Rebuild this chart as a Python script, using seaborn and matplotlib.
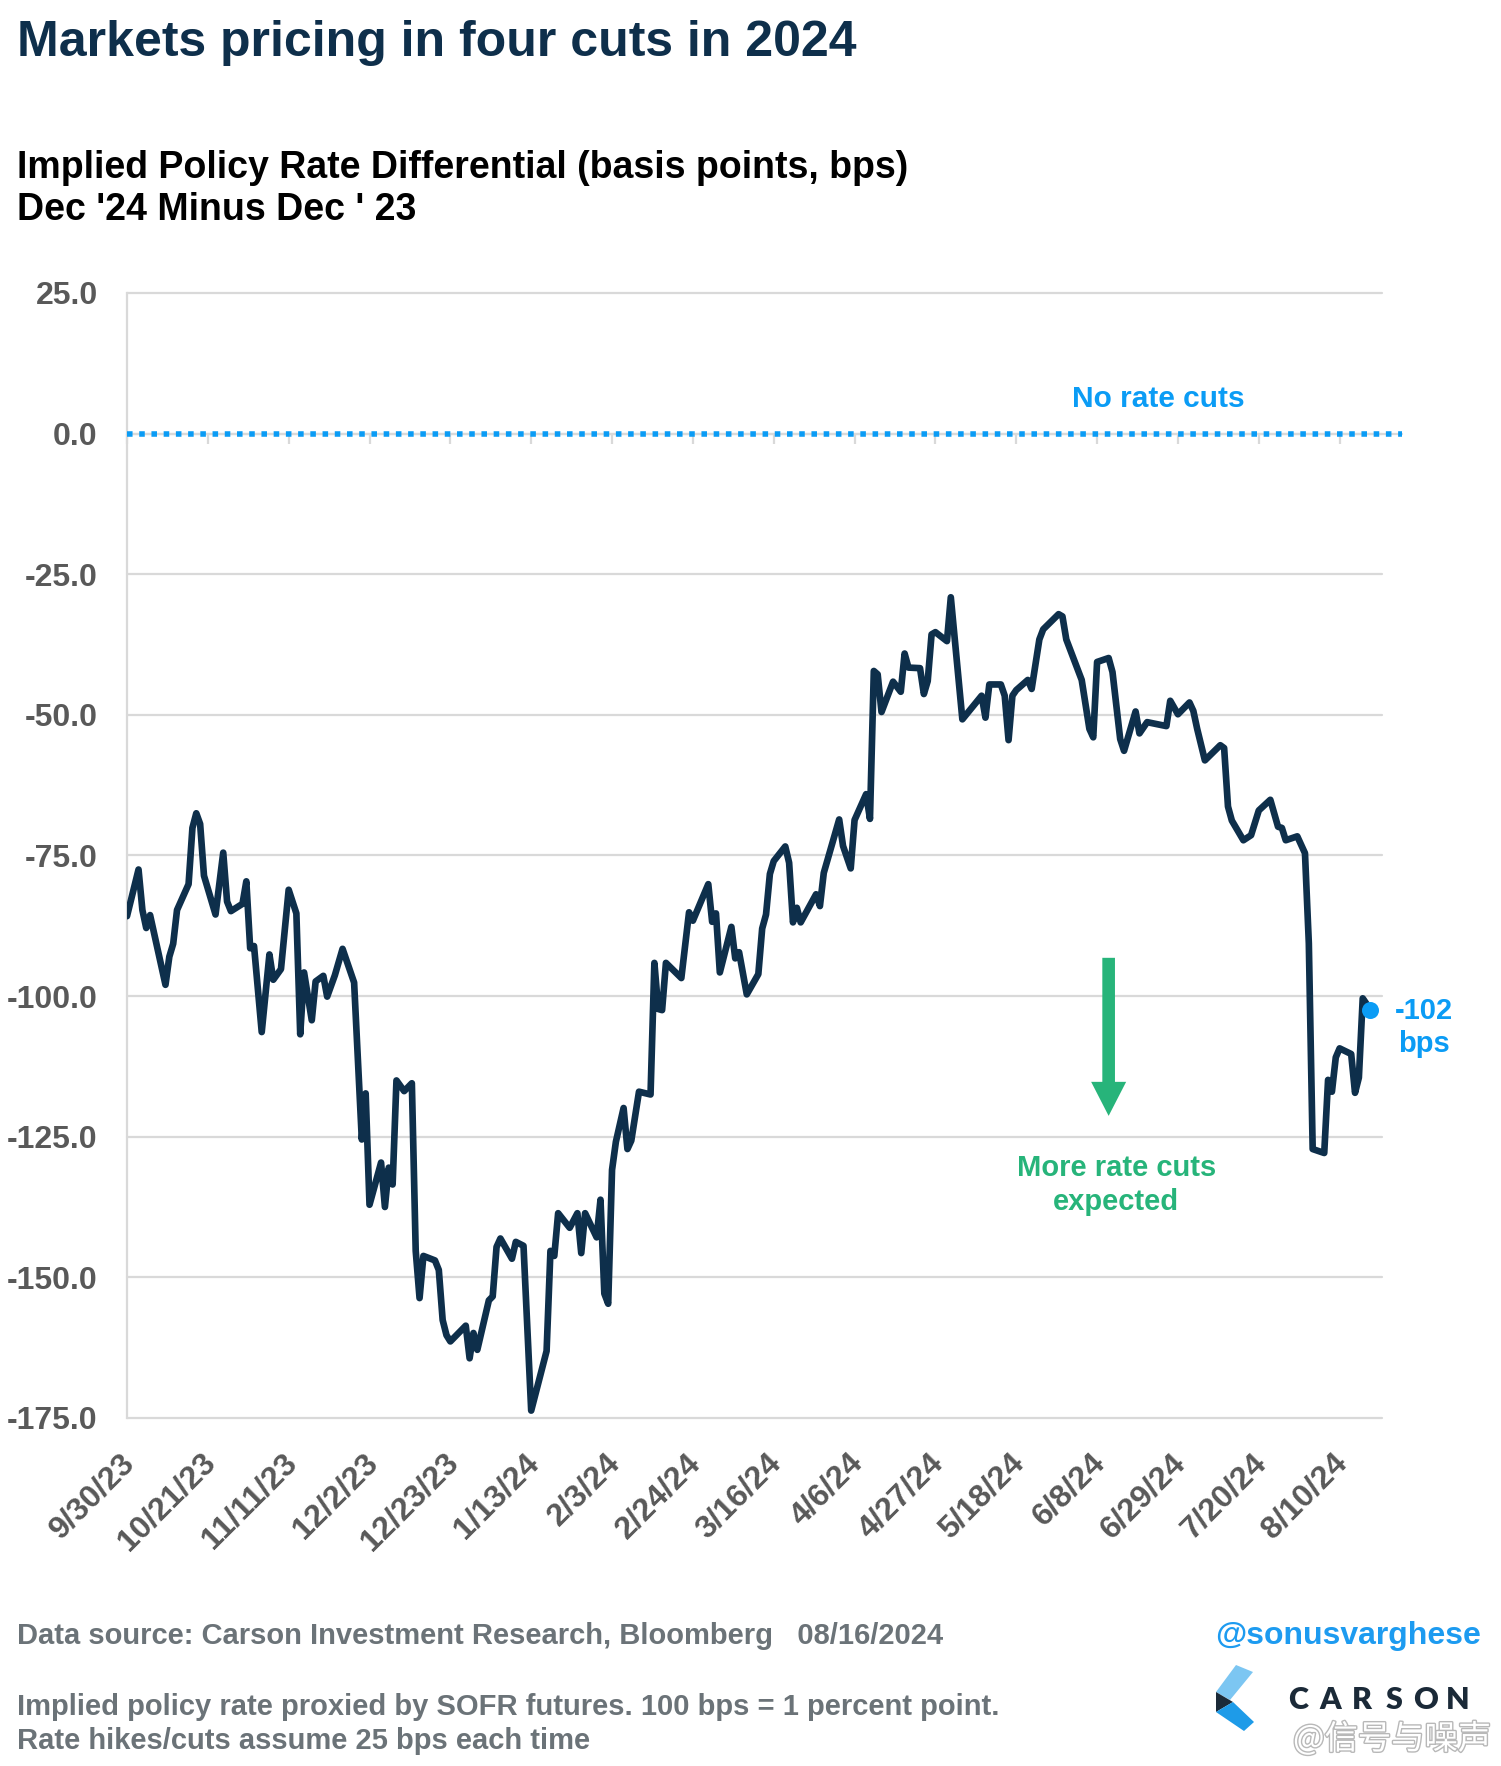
import matplotlib
matplotlib.use("Agg")
import matplotlib.pyplot as plt
import matplotlib.dates as mdates
import matplotlib.patheffects as pe
from matplotlib.patches import Polygon
import pandas as pd
import seaborn as sns

# Implied policy rate differential, Dec'24 minus Dec'23 (bps)
obs_dates = [
    # Oct 2023
    "2023-09-30", "2023-10-03", "2023-10-04", "2023-10-05", "2023-10-06", "2023-10-10", "2023-10-11",
    "2023-10-12", "2023-10-13", "2023-10-16", "2023-10-17", "2023-10-18", "2023-10-19", "2023-10-20",
    "2023-10-23", "2023-10-25", "2023-10-26", "2023-10-27", "2023-10-30", "2023-10-31",
    # Nov 2023
    "2023-11-01", "2023-11-02", "2023-11-04", "2023-11-06", "2023-11-07", "2023-11-09", "2023-11-11",
    "2023-11-13", "2023-11-14", "2023-11-15", "2023-11-17", "2023-11-18", "2023-11-20", "2023-11-21",
    "2023-11-23", "2023-11-25", "2023-11-28", "2023-11-30",
    # Dec 2023
    "2023-12-01", "2023-12-02", "2023-12-05", "2023-12-06", "2023-12-07", "2023-12-08", "2023-12-09",
    "2023-12-11", "2023-12-13", "2023-12-14", "2023-12-15", "2023-12-16", "2023-12-19", "2023-12-20",
    "2023-12-21", "2023-12-22", "2023-12-23", "2023-12-27", "2023-12-28", "2023-12-29", "2023-12-30",
    # Jan 2024
    "2024-01-02", "2024-01-03", "2024-01-04", "2024-01-05", "2024-01-08", "2024-01-09", "2024-01-11",
    "2024-01-13", "2024-01-17", "2024-01-18", "2024-01-19", "2024-01-20", "2024-01-23", "2024-01-25",
    "2024-01-26", "2024-01-27", "2024-01-30", "2024-01-31",
    # Feb 2024
    "2024-02-01", "2024-02-02", "2024-02-03", "2024-02-04", "2024-02-06", "2024-02-07", "2024-02-08",
    "2024-02-10", "2024-02-13", "2024-02-14", "2024-02-15", "2024-02-16", "2024-02-17", "2024-02-21",
    "2024-02-23", "2024-02-24", "2024-02-28", "2024-02-29",
    # Mar 2024
    "2024-03-01", "2024-03-02", "2024-03-05", "2024-03-06", "2024-03-07", "2024-03-09", "2024-03-12",
    "2024-03-13", "2024-03-14", "2024-03-15", "2024-03-16", "2024-03-19", "2024-03-20", "2024-03-21",
    "2024-03-22", "2024-03-23", "2024-03-27", "2024-03-28", "2024-03-29",
    # Apr 2024
    "2024-04-02", "2024-04-03", "2024-04-05", "2024-04-06", "2024-04-09", "2024-04-10", "2024-04-11",
    "2024-04-12", "2024-04-13", "2024-04-16", "2024-04-18", "2024-04-19", "2024-04-20", "2024-04-23",
    "2024-04-24", "2024-04-25", "2024-04-26", "2024-04-27", "2024-04-30",
    # May 2024
    "2024-05-01", "2024-05-04", "2024-05-09", "2024-05-10", "2024-05-11", "2024-05-14", "2024-05-15",
    "2024-05-16", "2024-05-17", "2024-05-18", "2024-05-21", "2024-05-22", "2024-05-24", "2024-05-25",
    "2024-05-29", "2024-05-30", "2024-05-31",
    # Jun 2024
    "2024-06-04", "2024-06-06", "2024-06-07", "2024-06-08", "2024-06-11", "2024-06-12", "2024-06-14",
    "2024-06-15", "2024-06-18", "2024-06-19", "2024-06-21", "2024-06-26", "2024-06-27", "2024-06-29",
    # Jul 2024
    "2024-07-02", "2024-07-03", "2024-07-04", "2024-07-06", "2024-07-10", "2024-07-11", "2024-07-12",
    "2024-07-13", "2024-07-16", "2024-07-18", "2024-07-20", "2024-07-23", "2024-07-25", "2024-07-26",
    "2024-07-27", "2024-07-30",
    # Aug 2024
    "2024-08-01", "2024-08-02", "2024-08-03", "2024-08-06", "2024-08-07", "2024-08-08", "2024-08-09",
    "2024-08-10", "2024-08-13", "2024-08-14", "2024-08-15", "2024-08-16", "2024-08-17",
]
implied_diff = [
    # Oct 2023
    -85.8, -77.5, -84.7, -87.9, -85.6, -98.0, -93.0,
    -90.7, -84.7, -80.1, -70.1, -67.5, -69.4, -78.6,
    -85.5, -74.5, -83.2, -84.9, -83.6, -79.6,
    # Nov 2023
    -91.5, -91.1, -106.4, -92.6, -97.1, -95.2, -81.1,
    -85.3, -106.8, -95.8, -104.3, -97.4, -96.4, -100.1,
    -96.3, -91.6, -97.6, -125.5,
    # Dec 2023
    -117.3, -137.1, -129.6, -137.5, -130.5, -133.5, -115.0,
    -116.9, -115.5, -145.3, -153.7, -146.2, -147.0, -148.7,
    -157.6, -160.3, -161.4, -158.6, -164.4, -159.9, -162.9,
    # Jan 2024
    -154.1, -153.4, -144.6, -143.1, -146.7, -143.7, -144.4,
    -173.7, -163.1, -145.3, -146.2, -138.6, -141.2, -138.6,
    -145.7, -138.6, -142.9, -136.2,
    # Feb 2024
    -152.9, -154.7, -130.9, -125.9, -119.9, -127.2, -125.7,
    -117.0, -117.5, -94.1, -102.3, -102.5, -94.1, -96.8,
    -85.1, -86.6, -80.1, -86.8,
    # Mar 2024
    -85.3, -95.8, -87.7, -93.3, -92.2, -99.7, -96.1,
    -88.0, -85.5, -78.3, -76.0, -73.4, -76.3, -86.9,
    -84.3, -86.9, -81.9, -84.0, -78.1,
    # Apr 2024
    -68.6, -73.3, -77.3, -68.7, -64.1, -68.5, -42.2,
    -42.8, -49.5, -44.1, -45.9, -39.1, -41.6, -41.7,
    -46.3, -44.0, -35.7, -35.3, -36.9,
    # May 2024
    -29.1, -50.8, -46.6, -50.5, -44.6, -44.6, -46.6,
    -54.5, -46.6, -45.6, -43.8, -45.4, -36.6, -34.8,
    -32.1, -32.5, -36.6,
    # Jun 2024
    -43.8, -52.5, -54.0, -40.6, -39.9, -42.4, -54.3,
    -56.4, -49.4, -53.3, -51.3, -52.0, -47.5, -49.9,
    # Jul 2024
    -47.8, -49.3, -52.5, -58.1, -55.4, -55.9, -66.3,
    -68.8, -72.3, -71.4, -67.0, -65.1, -69.9, -70.1,
    -72.3, -71.6,
    # Aug 2024
    -74.6, -90.6, -127.2, -127.9, -114.9, -117.0, -110.9,
    -109.3, -110.3, -117.2, -114.5, -100.4, -101.4,
]
assert len(obs_dates) == len(implied_diff)

latest_date = "2024-08-18"
latest_value = -102.5

# axis settings
x_start, x_end = "2023-09-30", "2024-08-21"
y_ticks = [25, 0, -25, -50, -75, -100, -125, -150, -175]
tick_dates = pd.date_range(x_start, periods=16, freq="21D")
tick_labels = [f"{d.month}/{d.day}/{d:%y}" for d in tick_dates]

# annotation anchors (date, bps)
no_cut_pos = ("2024-06-24", 4.8)
arrow_date, arrow_from, arrow_to = "2024-06-11", -93.2, -121.3
more_cuts_date = "2024-06-13"
more_cuts_lines = [("More rate cuts", -132.0), ("expected", -138.0)]
latest_label_date = "2024-09-01"
latest_lines = [("-102", -104.1), ("bps", -109.9)]

navy = "#0e2f4b"
blue = "#0b9cf5"
green = "#27b47a"
grid_grey = "#d9d9d9"
tick_grey = "#595959"
foot_grey = "#6b7378"

sns.set_theme(style="white")
plt.rcParams["font.family"] = ["Liberation Sans", "Noto Sans CJK SC", "DejaVu Sans"]
plt.rcParams["axes.unicode_minus"] = False

fig = plt.figure(figsize=(15.01, 17.66), dpi=100)
ax = fig.add_axes([0.0846, 0.1971, 0.8361, 0.6370])

df = pd.DataFrame({"date": pd.to_datetime(obs_dates), "bps": implied_diff})
sns.lineplot(data=df, x="date", y="bps", ax=ax, color=navy, linewidth=4.8,
             solid_joinstyle="round", solid_capstyle="round", zorder=4)

ax.set_xlim(pd.Timestamp(x_start), pd.Timestamp(x_end))
ax.set_ylim(-175, 25)
ax.set_xlabel("")
ax.set_ylabel("")

# y axis: gridlines and bold grey labels
ax.set_yticks(y_ticks, labels=[f"{v:.1f}" for v in y_ticks], fontweight="bold")
ax.tick_params(axis="y", length=0, pad=21, labelsize=23, labelcolor=tick_grey)
ax.yaxis.grid(True, color=grid_grey, linewidth=1.6)
ax.xaxis.grid(False)
for gl in ax.get_ygridlines():
    gl.set_clip_on(False)
for side in ["top", "right", "bottom"]:
    ax.spines[side].set_visible(False)
ax.spines["left"].set_color(grid_grey)
ax.spines["left"].set_linewidth(1.6)

# x axis crosses at zero: grey line with small ticks
ax.set_xticks(tick_dates)
ax.set_xticklabels([])
ax.tick_params(axis="x", length=0)
ax.axhline(0, xmin=0, xmax=1.016, color=grid_grey, linewidth=1.6, clip_on=False, zorder=2)
sec = ax.secondary_xaxis((0 - (-175)) / 200)
sec.set_alignment("bottom")
sec.set_xticks(mdates.date2num(tick_dates))
sec.tick_params(axis="x", direction="out", length=7.2, width=1.6, color=grid_grey,
                labelbottom=False, labeltop=False)
for s in sec.spines.values():
    s.set_visible(False)

# rotated date labels at the bottom
for d, lab in zip(mdates.date2num(tick_dates), tick_labels):
    ax.annotate(lab, xy=(d, 0), xycoords=("data", "axes fraction"),
                xytext=(9, -46), textcoords="offset pixels",
                rotation=45, rotation_mode="anchor", ha="right", va="baseline",
                fontsize=23, fontweight="bold", color=tick_grey, annotation_clip=False)

# no-cut reference line
ax.axhline(0, xmin=0, xmax=1.016, color=blue, linewidth=4.0, linestyle=(0, (1, 1.2)),
           dash_capstyle="butt", clip_on=False, zorder=3)
ax.text(mdates.date2num(pd.Timestamp(no_cut_pos[0])), no_cut_pos[1], "No rate cuts",
        ha="center", va="baseline", fontsize=21.5, fontweight="bold", color=blue)

# green arrow and label
ad = mdates.date2num(pd.Timestamp(arrow_date))
ax.annotate("", xy=(ad, arrow_to), xytext=(ad, arrow_from),
            arrowprops=dict(arrowstyle="simple,head_length=2.45,head_width=2.52,tail_width=0.91",
                            mutation_scale=10, color=green, lw=0, shrinkA=0, shrinkB=0))
for txt, yv in more_cuts_lines:
    ax.text(mdates.date2num(pd.Timestamp(more_cuts_date)), yv, txt, ha="center", va="baseline",
            fontsize=21, fontweight="bold", color=green)

# latest point
sns.scatterplot(x=[pd.Timestamp(latest_date)], y=[latest_value], ax=ax, s=150,
                color=blue, linewidth=0, zorder=5, clip_on=False, legend=False)
for txt, yv in latest_lines:
    ax.text(mdates.date2num(pd.Timestamp(latest_label_date)), yv, txt, ha="center",
            va="baseline", fontsize=21, fontweight="bold", color=blue, clip_on=False)

# titles
fig.text(0.0113, 0.9681, "Markets pricing in four cuts in 2024", fontsize=36,
         fontweight="bold", color=navy, va="baseline")
fig.text(0.0113, 0.8992, "Implied Policy Rate Differential (basis points, bps)", fontsize=27,
         fontweight="bold", color="black", va="baseline")
fig.text(0.0113, 0.8757, "Dec '24 Minus Dec ' 23", fontsize=27,
         fontweight="bold", color="black", va="baseline")

# footer
fig.text(0.0113, 0.0691, "Data source: Carson Investment Research, Bloomberg   08/16/2024",
         fontsize=21, fontweight="bold", color=foot_grey, va="baseline")
fig.text(0.0113, 0.0289, "Implied policy rate proxied by SOFR futures. 100 bps = 1 percent point.",
         fontsize=21, fontweight="bold", color=foot_grey, va="baseline")
fig.text(0.0113, 0.0099, "Rate hikes/cuts assume 25 bps each time",
         fontsize=21, fontweight="bold", color=foot_grey, va="baseline")
fig.text(0.9867, 0.0691, "@sonusvarghese", fontsize=23, fontweight="bold",
         color="#1d9bf0", ha="right", va="baseline")

# Carson logo (approximate)
W, H = 1501, 1766
def px(pts):
    return [(x / W, 1 - y / H) for x, y in pts]
fig.patches.append(Polygon(px([(1236, 1665), (1253, 1672), (1230, 1700), (1216, 1692)]),
                           closed=True, transform=fig.transFigure, color="#7cc6f2", lw=0))
fig.patches.append(Polygon(px([(1216, 1692), (1216, 1712), (1233, 1702)]),
                           closed=True, transform=fig.transFigure, color="#1b2a38", lw=0))
fig.patches.append(Polygon(px([(1216, 1712), (1233, 1702), (1254, 1722), (1244, 1731)]),
                           closed=True, transform=fig.transFigure, color="#1e9be8", lw=0))
for i, letter in enumerate("CARSON"):
    fig.text((1298 + i * 32) / W, 1 - 1709 / H, letter, fontsize=22, fontweight="heavy",
             family="Lato", color="#1b2a38", ha="center", va="baseline")

# watermark
fig.text(1293 / W, 1 - 1749 / H, "@信号与噪声", fontsize=24,
         family=["Noto Sans CJK SC", "DejaVu Sans"], color="white", va="baseline",
         path_effects=[pe.withStroke(linewidth=2, foreground="#b8b8b8")])

fig.savefig("out.png", dpi=100, facecolor="white")
